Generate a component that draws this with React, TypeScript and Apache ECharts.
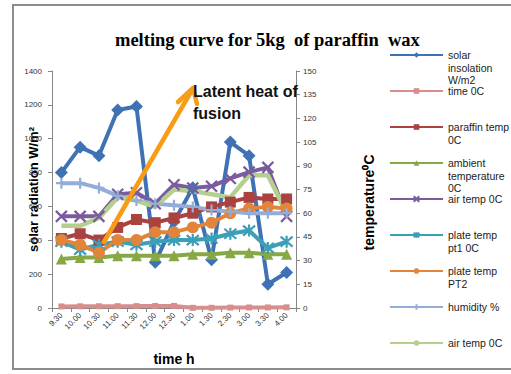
import React, { useEffect, useRef } from 'react';
import * as echarts from 'echarts';

const categories = ['9.30', '10.00', '10.30', '11.00', '11.30', '12.00', '12.30', '1.00', '1.30', '2.30', '3.00', '3.30', '4.00'];
const solarInsolation = [800, 950, 900, 1170, 1190, 270, 510, 710, 285, 980, 900, 140, 210];
const timeValues = [9.3, 10, 10.3, 11, 11.3, 12, 12.3, 1, 1.3, 2.3, 3, 3.3, 4];
const paraffinTemp = [44, 47, 43, 51, 56, 54, 57, 60, 64, 67, 70, 69, 69];
const ambientTemp = [31, 32, 32, 33, 33, 33, 33, 34, 34, 35, 35, 34, 34];
const airTemp = [58, 58, 58, 72, 73, 66, 78, 76, 77, 82, 86, 89, 58];
const platePt1 = [42, 37, 40, 42, 40, 42, 43, 43, 44, 47, 49, 38, 42];
const platePt2 = [43, 40, 35, 43, 43, 48, 48, 51, 54, 60, 63, 64, 63];
const humidity = [79, 79, 76, 71, 68, 66, 65, 64, 62, 61, 60, 60, 60];
const airTemp2 = [52, 52, 57, 70, 68, 64, 75, 74, 72, 70, 84, 84, 60];

const leftTicks = { min: 0, max: 1400, interval: 200 };
const rightTicks = { min: 0, max: 150, interval: 15 };

const seriesNames = [
  'solar insolation W/m2',
  'time 0C',
  'paraffin temp 0C',
  'ambient temperature 0C',
  'air temp 0C',
  'plate temp pt1 0C',
  'plate temp PT2',
  'humidity %',
  'air temp 0C ',
];
const legendLabels = [
  'solar\ninsolation\nW/m2',
  'time 0C',
  'paraffin temp\n0C',
  'ambient\ntemperature\n0C',
  'air temp 0C',
  'plate temp\npt1 0C',
  'plate temp\nPT2',
  'humidity %',
  'air temp 0C',
];
const colors = ['#3F71B5', '#D88E8C', '#AA4240', '#86A845', '#7A5C9E', '#3B9FB8', '#E2843A', '#93ADD8', '#B5CF8E'];

const SYM_X = 'path://M0,0 L10,10 M10,0 L0,10';
const SYM_STAR = 'path://M0,0 L10,10 M10,0 L0,10 M5,-1 L5,11';
const SYM_PLUS = 'path://M5,0 L5,10 M0,5 L10,5';

export default function App() {
  const ref = useRef<HTMLDivElement>(null);
  useEffect(() => {
    if (!ref.current) return;
    const chart = echarts.init(ref.current, undefined, { renderer: 'svg' });
    const font = 'Liberation Sans';
    const L = 12.5;
    const H = 5 * L;
    const padLabel = (label: string) => {
      const lines = label.split('\n');
      const after = 3 - lines.length;
      return ['\u00a0', '\u00a0', ...lines, ...Array(after).fill('\u00a0')].join('\n');
    };
    const mk = (
      idx: number,
      data: number[],
      yAxisIndex: number,
      symbol: string,
      symbolSize: number,
      stroke = false,
      width = 4
    ) => ({
      type: 'line',
      name: seriesNames[idx],
      data,
      yAxisIndex,
      symbol,
      symbolSize,
      showSymbol: symbol !== 'none',
      color: colors[idx],
      lineStyle: { width, color: colors[idx] },
      itemStyle: stroke
        ? { color: colors[idx], borderColor: colors[idx], borderWidth: 2.2 }
        : { color: colors[idx], borderWidth: 0 },
    });
    chart.setOption({
      animation: false,
      backgroundColor: '#ffffff',
      title: {
        text: 'melting curve for 5kg  of paraffin  wax',
        left: 110,
        top: 25,
        textStyle: { fontFamily: 'Liberation Serif', fontWeight: 'bold', fontSize: 18.5, color: '#000' },
      },
      legend: {
        orient: 'vertical',
        left: 389,
        top: 55 - H / 2,
        height: 420,
        padding: 0,
        itemGap: 36 - H,
        itemWidth: 53,
        itemHeight: 7,
        data: seriesNames,
        formatter: (name: string) => padLabel(legendLabels[seriesNames.indexOf(name)]),
        lineStyle: { width: 2 },
        textStyle: { fontFamily: font, fontSize: 10.5, lineHeight: L, color: '#222' },
      },
      grid: { left: 52, right: 215, top: 71, bottom: 66 },
      xAxis: {
        type: 'category',
        data: categories,
        boundaryGap: true,
        axisLine: { lineStyle: { color: '#868686', width: 1 } },
        axisTick: { show: true, length: 4, lineStyle: { color: '#868686' } },
        axisLabel: { rotate: 45, fontSize: 8, fontFamily: font, color: '#333', margin: 6, interval: 0 },
        name: 'time h',
        nameLocation: 'middle',
        nameGap: 44,
        nameMoveOverlap: false,
        nameTextStyle: { fontFamily: font, fontWeight: 'bold', fontSize: 14, color: '#000' },
      },
      yAxis: [
        {
          type: 'value',
          ...leftTicks,
          position: 'left',
          axisLine: { show: true, lineStyle: { color: '#868686', width: 1 } },
          axisTick: { show: true, length: 4, lineStyle: { color: '#868686' } },
          splitLine: { show: false },
          axisLabel: { fontSize: 8, fontFamily: font, color: '#333', margin: 10, formatter: (v: number) => String(v) },
          name: 'solar radiation W/m²',
          nameLocation: 'middle',
          nameRotate: 90,
          nameGap: 12,
          nameMoveOverlap: false,
          nameTextStyle: { fontFamily: font, fontWeight: 'bold', fontSize: 13, color: '#000' },
        },
        {
          type: 'value',
          ...rightTicks,
          position: 'right',
          axisLine: { show: true, lineStyle: { color: '#868686', width: 1 } },
          axisTick: { show: true, length: 4, lineStyle: { color: '#868686' } },
          splitLine: { show: false },
          axisLabel: { fontSize: 8, fontFamily: font, color: '#333', margin: 7 },
          name: 'temperature⁰C',
          nameLocation: 'middle',
          nameRotate: 90,
          nameGap: 66,
          nameMoveOverlap: false,
          nameTextStyle: { fontFamily: font, fontWeight: 'bold', fontSize: 14, color: '#000', padding: [0, 26, 0, 0] },
        },
      ],
      series: [
        mk(0, solarInsolation, 0, 'diamond', 13),
        mk(1, timeValues, 0, 'rect', 6),
        mk(2, paraffinTemp, 1, 'rect', 11),
        mk(3, ambientTemp, 1, 'triangle', 11),
        mk(4, airTemp, 1, SYM_X, 11, true),
        mk(5, platePt1, 1, SYM_STAR, 12, true),
        mk(6, platePt2, 1, 'circle', 12),
        mk(7, humidity, 1, SYM_PLUS, 11, true),
        mk(8, airTemp2, 1, 'none', 0, false, 4.5),
      ],
      graphic: [
        { type: 'line', shape: { x1: 13, y1: 5, x2: 13, y2: 369 }, style: { stroke: '#8C8C8C', lineWidth: 2 }, silent: true },
        { type: 'line', shape: { x1: 12, y1: 5, x2: 511, y2: 5 }, style: { stroke: '#8C8C8C', lineWidth: 2 }, silent: true },
        { type: 'line', shape: { x1: 12, y1: 369, x2: 511, y2: 369 }, style: { stroke: '#8C8C8C', lineWidth: 2 }, silent: true },
        { type: 'line', shape: { x1: 104, y1: 242, x2: 192, y2: 90 }, style: { stroke: '#F99C15', lineWidth: 4.5, lineCap: 'round' }, z: 100 },
        {
          type: 'polyline',
          shape: { points: [[178, 102], [193, 88], [197, 104]] },
          style: { stroke: '#F99C15', lineWidth: 4.5, fill: null, lineCap: 'round', lineJoin: 'round' },
          z: 100,
        },
        {
          type: 'text',
          x: 193,
          y: 80,
          z: 100,
          style: { text: 'Latent heat of\nfusion', font: `bold 16px "${font}"`, fill: '#111', lineHeight: 22 },
        },
      ],
    });
    return () => chart.dispose();
  }, []);
  return <div ref={ref} style={{ position: 'absolute', left: 0, top: 0, width: 511, height: 374, background: '#fff' }} />;
}
